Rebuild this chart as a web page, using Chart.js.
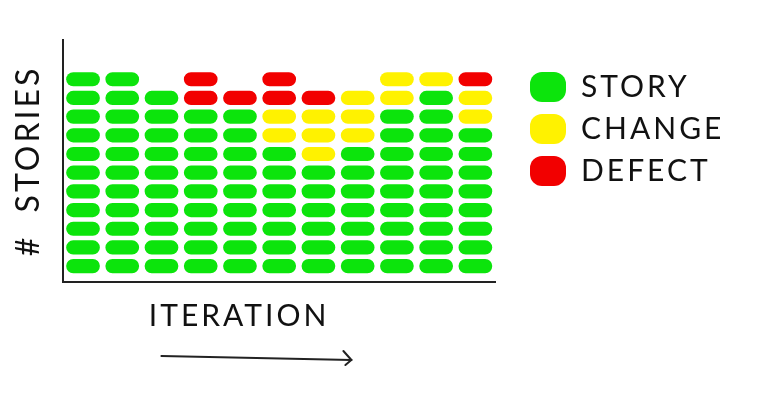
<!DOCTYPE html>
<html><head><meta charset="utf-8">
<script src="https://cdn.jsdelivr.net/npm/chart.js@4.4.1/dist/chart.umd.min.js"></script>
<style>html,body{margin:0;padding:0;background:#fff}#wrap{width:770px;height:419px}</style>
</head><body><div id="wrap"><canvas id="c" width="770" height="419"></canvas></div>
<script>
const iterations = ['1','2','3','4','5','6','7','8','9','10','11'];
const story  = [11,11,10, 9, 9, 7, 6, 7, 9,10, 8];
const change = [ 0, 0, 0, 0, 0, 2, 3, 3, 2, 1, 2];
const defect = [ 0, 0, 0, 2, 1, 2, 1, 0, 0, 0, 1];
const kinds  = ['STORY','CHANGE','DEFECT'];
const colors = ['#0ce40c','#fff200','#f20000'];

const totals = iterations.map((_, i) => story[i] + change[i] + defect[i]);
const maxRows = Math.max(...totals);
const datasets = [];
for (let r = 0; r < maxRows; r++) {
  datasets.push({
    data: iterations.map((_, i) => r < totals[i] ? [r + 0.12, r + 0.88] : null),
    backgroundColor: iterations.map((_, i) => r < story[i] ? colors[0] : (r < story[i] + change[i] ? colors[1] : colors[2])),
    borderRadius: 8, borderSkipped: false, grouped: false,
    categoryPercentage: 1, barPercentage: 0.86
  });
}

const spacing = {
  id: 'spacing',
  beforeUpdate(chart) {
    chart.ctx.letterSpacing = '3px';
    const lg = chart.legend;
    if (lg && !lg._wideFit) {
      const orig = lg.fit;
      lg.fit = function () { orig.call(this); this.width = 252; };
      lg._wideFit = true;
    }
  },
  beforeLayout(chart) { chart.ctx.letterSpacing = '3px'; },
  beforeDraw(chart) { chart.ctx.letterSpacing = '3px'; },
  afterDraw(chart) {
    const ctx = chart.ctx, a = chart.chartArea;
    const x0 = a.left + 98, x1 = a.left + 288, y = a.bottom + 74;
    ctx.save();
    ctx.strokeStyle = '#222'; ctx.lineWidth = 2; ctx.lineCap = 'round';
    ctx.beginPath(); ctx.moveTo(x0, y); ctx.lineTo(x1, y + 4); ctx.stroke();
    ctx.beginPath(); ctx.moveTo(x1 - 8, y - 5); ctx.lineTo(x1, y + 4); ctx.lineTo(x1 - 6, y + 9); ctx.stroke();
    ctx.restore();
  }
};

new Chart(document.getElementById('c'), {
  type: 'bar',
  data: { labels: iterations, datasets },
  options: {
    responsive: false, animation: false,
    layout: { padding: { left: 9, right: 0, top: 40, bottom: 85 } },
    plugins: {
      tooltip: { enabled: false },
      legend: {
        position: 'right', align: 'start',
        title: { display: true, text: ' ', font: { size: 10 }, padding: { top: 0, bottom: 8 } },
        labels: {
          color: '#111', font: { family: 'Lato', size: 30 },
          boxWidth: 36, boxHeight: 30, padding: 12, useBorderRadius: true, borderRadius: 12,
          generateLabels: () => kinds.map((k, i) => ({ text: k, fillStyle: colors[i], strokeStyle: colors[i], lineWidth: 0, borderRadius: 12, fontColor: '#111' }))
        }
      }
    },
    scales: {
      x: {
        grid: { display: false }, ticks: { display: false },
        border: { display: true, color: '#222', width: 2 },
        title: { display: true, text: '        ITERATION', align: 'start', color: '#111', font: { family: 'Lato', size: 30 }, padding: { top: 8, bottom: 0 } }
      },
      y: {
        min: -0.35, max: 12.6,
        grid: { display: false }, ticks: { display: false },
        border: { display: true, color: '#222', width: 2 },
        title: { display: true, text: '#  STORIES', color: '#111', font: { family: 'Lato', size: 32 }, padding: { top: 0, bottom: 8 } }
      },
      gap: {
        type: 'linear', position: 'right', display: true,
        grid: { display: false }, ticks: { display: false }, border: { display: false },
        afterFit(s) { s.width = 23; }
      }
    }
  },
  plugins: [spacing]
});
</script></body></html>
